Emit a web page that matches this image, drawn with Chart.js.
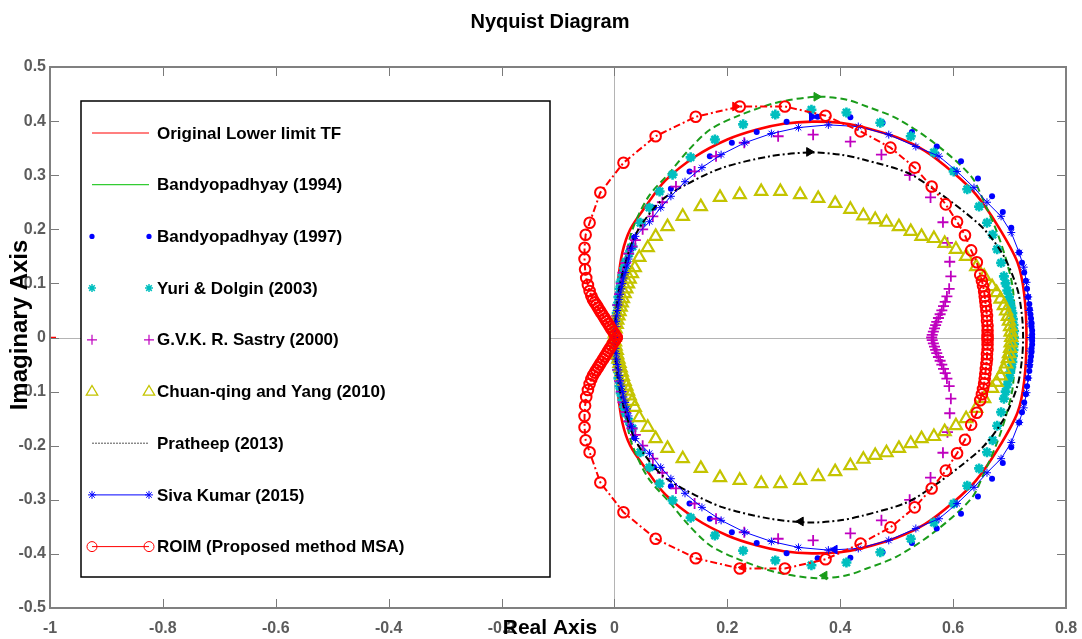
<!DOCTYPE html>
<html>
<head>
<meta charset="utf-8">
<script src="https://cdn.jsdelivr.net/npm/chart.js@4.4.1/dist/chart.umd.min.js"></script>
<style>
  html, body { margin: 0; padding: 0; background: #fff; }
  #wrap { width: 1082px; height: 639px; position: relative; }
</style>
</head>
<body>
<div id="wrap"><canvas id="nyq" width="1082" height="639"></canvas></div>
<script>
// tick values
const xTicks = [-1, -0.8, -0.6, -0.4, -0.2, 0, 0.2, 0.4, 0.6, 0.8];
const yTicks = [-0.5, -0.4, -0.3, -0.2, -0.1, 0, 0.1, 0.2, 0.3, 0.4, 0.5];

// upper half of each Nyquist curve (origin -> low frequency end)
const origX = [0, 0.002, 0.006, 0.014, 0.028, 0.055, 0.09, 0.144, 0.2, 0.251, 0.3, 0.35, 0.4, 0.436, 0.5, 0.55, 0.6, 0.64, 0.68, 0.714, 0.726, 0.73];
const origY = [0, 0.04, 0.1, 0.157, 0.2, 0.242, 0.29, 0.335, 0.366, 0.384, 0.395, 0.399, 0.397, 0.39, 0.37, 0.345, 0.305, 0.265, 0.205, 0.139, 0.08, 0];

const bandy94X = [0, 0.003, 0.01, 0.02, 0.032, 0.06, 0.098, 0.13, 0.169, 0.22, 0.287, 0.358, 0.41, 0.447, 0.5, 0.566, 0.632, 0.655, 0.678, 0.695, 0.706, 0.71];
const bandy94Y = [0, 0.05, 0.1, 0.15, 0.2, 0.26, 0.305, 0.345, 0.384, 0.41, 0.434, 0.445, 0.44, 0.427, 0.405, 0.36, 0.298, 0.25, 0.194, 0.14, 0.089, 0];

const bandy97X = [0, 0.001, 0.002, 0.004, 0.006, 0.009, 0.013, 0.018, 0.025, 0.035, 0.05, 0.07, 0.1, 0.133, 0.169, 0.208, 0.252, 0.305, 0.36, 0.418, 0.475, 0.527, 0.571, 0.614, 0.644, 0.669, 0.688, 0.703, 0.717, 0.722, 0.726, 0.729, 0.731, 0.733, 0.735, 0.736, 0.737, 0.738, 0.739, 0.739, 0.74, 0.74, 0.74];
const bandy97Y = [0, 0.02, 0.04, 0.06, 0.08, 0.1, 0.12, 0.14, 0.16, 0.185, 0.21, 0.24, 0.275, 0.307, 0.335, 0.36, 0.38, 0.399, 0.408, 0.407, 0.397, 0.38, 0.353, 0.326, 0.294, 0.261, 0.232, 0.203, 0.157, 0.138, 0.12, 0.105, 0.09, 0.075, 0.062, 0.052, 0.043, 0.035, 0.027, 0.02, 0.013, 0.006, 0];

const yuriX = [0, 0.001, 0.002, 0.004, 0.005, 0.007, 0.009, 0.011, 0.014, 0.017, 0.02, 0.026, 0.032, 0.046, 0.062, 0.08, 0.103, 0.135, 0.178, 0.228, 0.285, 0.349, 0.411, 0.471, 0.525, 0.566, 0.601, 0.625, 0.646, 0.66, 0.67, 0.678, 0.685, 0.69, 0.693, 0.696, 0.699, 0.701, 0.703, 0.705, 0.706, 0.707, 0.708, 0.708];
const yuriY = [0, 0.015, 0.03, 0.045, 0.06, 0.075, 0.09, 0.103, 0.115, 0.128, 0.14, 0.155, 0.168, 0.212, 0.24, 0.27, 0.301, 0.333, 0.366, 0.394, 0.412, 0.421, 0.416, 0.397, 0.372, 0.342, 0.307, 0.274, 0.242, 0.212, 0.19, 0.163, 0.138, 0.113, 0.1, 0.087, 0.075, 0.065, 0.055, 0.045, 0.034, 0.023, 0.012, 0];

const sastryX = [0, 0.002, 0.004, 0.006, 0.009, 0.012, 0.015, 0.02, 0.025, 0.031, 0.037, 0.05, 0.068, 0.085, 0.109, 0.142, 0.18, 0.23, 0.29, 0.352, 0.418, 0.473, 0.523, 0.56, 0.582, 0.59, 0.594, 0.596, 0.593, 0.589, 0.586, 0.583, 0.58, 0.577, 0.574, 0.571, 0.569, 0.567, 0.565, 0.563, 0.562];
const sastryY = [0, 0.02, 0.04, 0.06, 0.08, 0.1, 0.12, 0.138, 0.155, 0.168, 0.18, 0.2, 0.224, 0.25, 0.279, 0.307, 0.335, 0.36, 0.372, 0.375, 0.362, 0.338, 0.3, 0.259, 0.213, 0.175, 0.14, 0.113, 0.09, 0.076, 0.066, 0.058, 0.05, 0.043, 0.036, 0.029, 0.023, 0.017, 0.011, 0.005, 0];

const chuanX = [0, 0.001, 0.002, 0.004, 0.005, 0.007, 0.009, 0.011, 0.013, 0.015, 0.018, 0.021, 0.024, 0.027, 0.031, 0.036, 0.044, 0.059, 0.073, 0.094, 0.121, 0.153, 0.187, 0.222, 0.26, 0.294, 0.329, 0.361, 0.391, 0.418, 0.441, 0.462, 0.482, 0.504, 0.525, 0.544, 0.566, 0.585, 0.605, 0.623, 0.641, 0.655, 0.669, 0.677, 0.684, 0.69, 0.694, 0.697, 0.699, 0.701, 0.702, 0.703];
const chuanY = [0, 0.008, 0.016, 0.024, 0.032, 0.04, 0.048, 0.056, 0.064, 0.072, 0.081, 0.09, 0.099, 0.108, 0.118, 0.129, 0.148, 0.166, 0.187, 0.205, 0.224, 0.242, 0.259, 0.264, 0.27, 0.27, 0.264, 0.257, 0.248, 0.237, 0.225, 0.218, 0.213, 0.205, 0.196, 0.187, 0.183, 0.174, 0.163, 0.15, 0.131, 0.113, 0.094, 0.083, 0.071, 0.059, 0.049, 0.039, 0.03, 0.02, 0.01, 0];

const pratheepX = [0, 0.003, 0.01, 0.02, 0.033, 0.05, 0.085, 0.133, 0.192, 0.276, 0.347, 0.4, 0.441, 0.518, 0.566, 0.614, 0.655, 0.69, 0.714, 0.722, 0.724];
const pratheepY = [0, 0.05, 0.1, 0.14, 0.18, 0.212, 0.255, 0.286, 0.314, 0.335, 0.342, 0.338, 0.329, 0.305, 0.274, 0.237, 0.2, 0.15, 0.089, 0.04, 0];

const sivaX = [0, 0.001, 0.002, 0.003, 0.004, 0.005, 0.007, 0.008, 0.01, 0.012, 0.014, 0.016, 0.019, 0.022, 0.025, 0.03, 0.037, 0.062, 0.082, 0.1, 0.125, 0.155, 0.189, 0.231, 0.278, 0.326, 0.379, 0.432, 0.486, 0.534, 0.575, 0.607, 0.637, 0.66, 0.685, 0.703, 0.717, 0.725, 0.73, 0.733, 0.735, 0.737, 0.738];
const sivaY = [0, 0.01, 0.02, 0.03, 0.04, 0.05, 0.06, 0.07, 0.08, 0.09, 0.1, 0.11, 0.12, 0.132, 0.145, 0.165, 0.187, 0.214, 0.24, 0.261, 0.288, 0.314, 0.338, 0.36, 0.377, 0.388, 0.393, 0.39, 0.375, 0.353, 0.335, 0.307, 0.277, 0.25, 0.224, 0.194, 0.157, 0.13, 0.102, 0.075, 0.05, 0.025, 0];

const roimX = [0.004, 0.001, -0.002, -0.005, -0.008, -0.011, -0.014, -0.017, -0.02, -0.023, -0.026, -0.029, -0.032, -0.035, -0.038, -0.041, -0.044, -0.047, -0.05, -0.052, -0.053, -0.053, -0.051, -0.044, -0.025, 0.016, 0.073, 0.144, 0.222, 0.302, 0.374, 0.436, 0.489, 0.532, 0.562, 0.587, 0.607, 0.621, 0.632, 0.642, 0.648, 0.651, 0.653, 0.655, 0.656, 0.657, 0.658, 0.659, 0.66, 0.66, 0.661, 0.661, 0.661, 0.661];
const roimY = [0, 0.005, 0.01, 0.015, 0.02, 0.025, 0.03, 0.035, 0.04, 0.045, 0.05, 0.055, 0.06, 0.065, 0.07, 0.077, 0.086, 0.097, 0.11, 0.126, 0.145, 0.166, 0.19, 0.212, 0.268, 0.323, 0.372, 0.408, 0.427, 0.427, 0.41, 0.381, 0.351, 0.314, 0.279, 0.246, 0.214, 0.189, 0.161, 0.139, 0.116, 0.105, 0.095, 0.085, 0.076, 0.067, 0.058, 0.049, 0.04, 0.031, 0.022, 0.013, 0.005, 0];

// direction arrows drawn by nyquist()
const arrowX = [0.358, 0.372, 0.345, 0.33, 0.214, 0.228, 0.35, 0.39];
const arrowY = [0.445, -0.44, 0.343, -0.34, 0.427, -0.425, 0.408, -0.392];
const arrowRot = [90, 270, 90, 270, 90, 270, 90, 270];
const arrowColor = ['#1a9c1a', '#1a9c1a', '#000000', '#000000', '#ff0000', '#ff0000', '#0000ff', '#0000ff'];

const FONT = '"Liberation Sans", Arial, sans-serif';

// Nyquist plot = G(jw) plus its mirror image for negative frequencies
function contour(xs, ys) {
  const pts = xs.map((x, i) => ({ x: x, y: ys[i] }));
  for (let i = xs.length - 2; i >= 0; i--) pts.push({ x: xs[i], y: -ys[i] });
  return pts;
}

const datasets = [
  { label: 'Original Lower limit TF', data: contour(origX, origY), showLine: true,
    borderColor: '#ff0000', borderWidth: 2.6, pointRadius: 0, tension: 0.3 },
  { label: 'Bandyopadhyay (1994)', data: contour(bandy94X, bandy94Y), showLine: true,
    borderColor: '#1a9c1a', borderWidth: 2, borderDash: [7, 4], pointRadius: 0, tension: 0.3 },
  { label: 'Bandyopadhyay (1997)', data: contour(bandy97X, bandy97Y), showLine: false,
    borderColor: '#0000ff', backgroundColor: '#0000ff', pointStyle: 'circle', pointRadius: 3, borderWidth: 0 },
  { label: 'Yuri & Dolgin (2003)', data: contour(yuriX, yuriY), showLine: false,
    borderColor: '#00bfbf', backgroundColor: '#00bfbf', pointStyle: 'star', pointRadius: 5, borderWidth: 2.6 },
  { label: 'G.V.K. R. Sastry (2000)', data: contour(sastryX, sastryY), showLine: false,
    borderColor: '#bf00bf', backgroundColor: '#bf00bf', pointStyle: 'cross', pointRadius: 5.5, borderWidth: 1.8 },
  { label: 'Chuan-qing and Yang (2010)', data: contour(chuanX, chuanY), showLine: false,
    borderColor: '#c4c400', backgroundColor: 'rgba(0,0,0,0)', pointStyle: 'triangle', pointRadius: 7, borderWidth: 2.2 },
  { label: 'Pratheep (2013)', data: contour(pratheepX, pratheepY), showLine: true,
    borderColor: '#000000', borderWidth: 2, borderDash: [7, 3, 2, 3], pointRadius: 0, tension: 0.3 },
  { label: 'Siva Kumar (2015)', data: contour(sivaX, sivaY), showLine: true,
    borderColor: '#0000ff', backgroundColor: '#0000ff', borderWidth: 1, pointStyle: 'star', pointRadius: 4, pointBorderWidth: 1 },
  { label: 'ROIM (Proposed method MSA)', data: contour(roimX, roimY), showLine: true,
    borderColor: '#ff0000', backgroundColor: 'rgba(0,0,0,0)', borderWidth: 2, borderDash: [7, 3, 2, 3],
    pointStyle: 'circle', pointRadius: 5.3, pointBorderWidth: 2 }
];
datasets.forEach((d, i) => { d.order = 20 - i; });

datasets.push({
  label: '_arrows', data: arrowX.map((x, i) => ({ x: x, y: arrowY[i] })), showLine: false,
  pointStyle: 'triangle', rotation: arrowRot, pointRadius: 5, borderWidth: 1,
  backgroundColor: arrowColor, borderColor: arrowColor, order: 0
});
datasets.push({
  label: '_critical', data: [{ x: -1, y: 0 }], showLine: false,
  pointStyle: 'cross', pointRadius: 6, borderWidth: 1.5, borderColor: '#ff0000', order: 0
});

function marker(ctx, style, x, y, r, color, fill, lw) {
  ctx.save();
  ctx.strokeStyle = color; ctx.fillStyle = color; ctx.lineWidth = lw;
  ctx.setLineDash([]);
  ctx.beginPath();
  if (style === 'circle') {
    ctx.arc(x, y, r, 0, Math.PI * 2);
    if (fill) ctx.fill(); else ctx.stroke();
  } else if (style === 'cross' || style === 'star') {
    ctx.moveTo(x - r, y); ctx.lineTo(x + r, y);
    ctx.moveTo(x, y - r); ctx.lineTo(x, y + r);
    if (style === 'star') {
      const d = r * 0.7;
      ctx.moveTo(x - d, y - d); ctx.lineTo(x + d, y + d);
      ctx.moveTo(x - d, y + d); ctx.lineTo(x + d, y - d);
    }
    ctx.stroke();
  } else if (style === 'triangle') {
    ctx.moveTo(x, y - r); ctx.lineTo(x + r * 0.95, y + r * 0.6); ctx.lineTo(x - r * 0.95, y + r * 0.6);
    ctx.closePath(); ctx.stroke();
  }
  ctx.restore();
}

const legendItems = [
  { line: true, dash: [] },
  { line: true, dash: [], color: '#33cc33', lw: 1.2 },
  { mark: 'circle', fill: true, r: 2.6 },
  { mark: 'star', r: 4, lw: 1.5 },
  { mark: 'cross', r: 5, lw: 1.2 },
  { mark: 'triangle', r: 6, lw: 1.3 },
  { line: true, dash: [2, 1], color: '#555555', lw: 1 },
  { line: true, dash: [], mark: 'star', r: 4, lw: 1 },
  { line: true, dash: [], mark: 'circle', r: 5, lw: 1 }
];

const framePlugin = {
  id: 'frame',
  beforeDraw(chart) {
    const ctx = chart.ctx;
    ctx.save();
    ctx.fillStyle = '#ffffff';
    ctx.fillRect(0, 0, chart.width, chart.height);
    ctx.restore();
  },
  beforeDatasetsDraw(chart) {
    const { ctx, chartArea: a, scales } = chart;
    const x0 = scales.x.getPixelForValue(0), y0 = scales.y.getPixelForValue(0);
    ctx.save();
    ctx.strokeStyle = '#b4b4b4'; ctx.lineWidth = 1;
    ctx.beginPath();
    ctx.moveTo(a.left, Math.round(y0) + 0.5); ctx.lineTo(a.right, Math.round(y0) + 0.5);
    ctx.moveTo(Math.round(x0) + 0.5, a.top); ctx.lineTo(Math.round(x0) + 0.5, a.bottom);
    ctx.stroke();
    ctx.restore();
  },
  afterDatasetsDraw(chart) {
    const { ctx, chartArea: a, scales } = chart;
    ctx.save();
    ctx.strokeStyle = '#7a7a7a'; ctx.lineWidth = 1;
    ctx.beginPath();
    xTicks.forEach(v => {
      const p = Math.round(scales.x.getPixelForValue(v)) + 0.5;
      ctx.moveTo(p, a.bottom); ctx.lineTo(p, a.bottom - 9);
      ctx.moveTo(p, a.top); ctx.lineTo(p, a.top + 9);
    });
    yTicks.forEach(v => {
      const p = Math.round(scales.y.getPixelForValue(v)) + 0.5;
      ctx.moveTo(a.left, p); ctx.lineTo(a.left + 9, p);
      ctx.moveTo(a.right, p); ctx.lineTo(a.right - 9, p);
    });
    ctx.stroke();
    ctx.lineWidth = 2; ctx.strokeStyle = '#808080';
    ctx.strokeRect(a.left, a.top, a.right - a.left, a.bottom - a.top);
    ctx.restore();
  },
  afterDraw(chart) {
    const ctx = chart.ctx;
    ctx.save();
    // title and axis labels
    ctx.fillStyle = '#000';
    ctx.textAlign = 'center'; ctx.textBaseline = 'middle';
    ctx.font = 'bold 20px ' + FONT;
    ctx.fillText('Nyquist Diagram', 550, 22);
    ctx.font = 'bold 21px ' + FONT;
    ctx.fillText('Real Axis', 550, 628);
    ctx.save();
    ctx.translate(20, 325); ctx.rotate(-Math.PI / 2);
    ctx.font = 'bold 24px ' + FONT;
    ctx.fillText('Imaginary Axis', 0, 0);
    ctx.restore();

    // legend box
    const L = 81, T = 101, R = 550, B = 577;
    ctx.fillStyle = '#fff';
    ctx.fillRect(L, T, R - L, B - T);
    ctx.strokeStyle = '#000'; ctx.lineWidth = 1.5;
    ctx.strokeRect(L, T, R - L, B - T);
    ctx.textAlign = 'left';
    ctx.font = 'bold 17px ' + FONT;
    legendItems.forEach((it, i) => {
      const ds = chart.data.datasets[i];
      const y = 133 + i * 51.7;
      const color = it.color || ds.borderColor;
      if (it.line) {
        ctx.save();
        ctx.strokeStyle = color; ctx.lineWidth = it.lw || 1.2;
        ctx.setLineDash(it.dash);
        ctx.beginPath(); ctx.moveTo(92, y); ctx.lineTo(149, y); ctx.stroke();
        ctx.restore();
      }
      if (it.mark) {
        marker(ctx, it.mark, 92, y, it.r, color, it.fill, it.lw || 1.2);
        marker(ctx, it.mark, 149, y, it.r, color, it.fill, it.lw || 1.2);
      }
      ctx.fillStyle = '#000';
      ctx.fillText(ds.label, 157, y + 1);
    });
    ctx.restore();
  }
};

new Chart(document.getElementById('nyq'), {
  type: 'scatter',
  data: { datasets: datasets },
  options: {
    responsive: false,
    animation: false,
    layout: { padding: { top: 67, right: 16, left: 0, bottom: 0 } },
    plugins: { legend: { display: false }, tooltip: { enabled: false }, title: { display: false } },
    scales: {
      x: {
        type: 'linear', min: -1, max: 0.8,
        afterBuildTicks: s => { s.ticks = xTicks.map(v => ({ value: v })); },
        afterFit: s => { s.height = 31; s.paddingRight = 0; s.paddingLeft = 0; },
        ticks: { callback: v => String(+v.toFixed(1)), font: { family: FONT, size: 16, weight: 'bold' },
                 color: '#5c5c5c', padding: 11, maxRotation: 0, autoSkip: false },
        grid: { display: false, drawTicks: false }, border: { display: false }
      },
      y: {
        type: 'linear', min: -0.5, max: 0.5,
        afterBuildTicks: s => { s.ticks = yTicks.map(v => ({ value: v })); },
        afterFit: s => { s.width = 50; s.paddingTop = 0; s.paddingBottom = 0; },
        ticks: { callback: v => String(+v.toFixed(1)), font: { family: FONT, size: 16, weight: 'bold' },
                 color: '#5c5c5c', padding: 4, autoSkip: false },
        grid: { display: false, drawTicks: false }, border: { display: false }
      }
    }
  },
  plugins: [framePlugin]
});
</script>
</body>
</html>
